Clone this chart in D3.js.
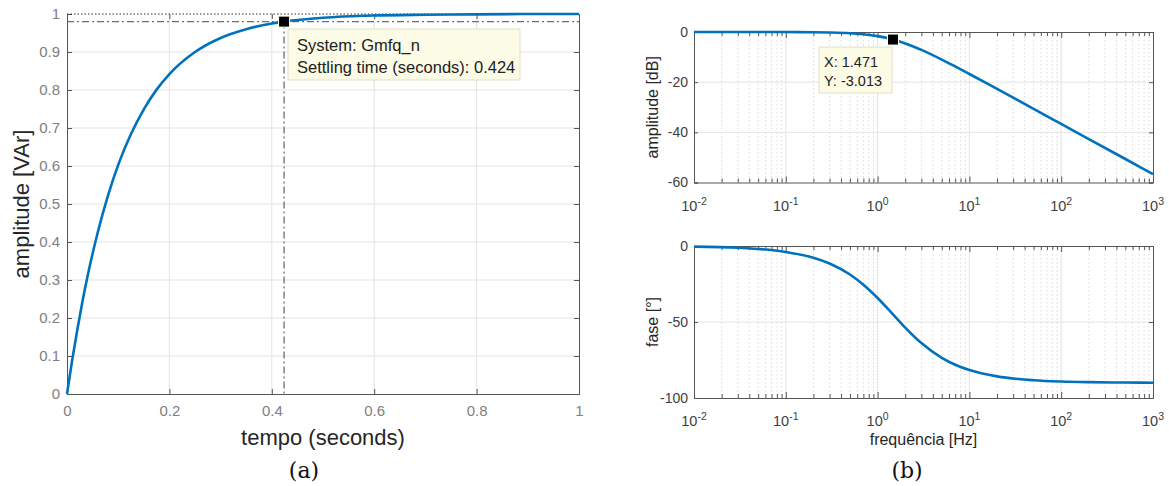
<!DOCTYPE html>
<html><head><meta charset="utf-8">
<script src="https://cdn.jsdelivr.net/npm/d3@7"></script>
<style>body{margin:0;background:#fff}svg{display:block}text{font-family:"Liberation Sans",Arial,sans-serif}</style>
</head><body>
<svg id="c" width="1169" height="486"></svg>
<script>
// ---- data ----
const stepT = [0,0.01,0.02,0.03,0.04,0.06,0.08,0.1,0.125,0.15,0.175,0.2,0.25,0.3,0.35,0.4,0.424,0.5,0.6,0.7,0.8,0.9,1.0];
const stepY = [0,0.088,0.168,0.242,0.309,0.425,0.522,0.603,0.684,0.749,0.801,0.842,0.900,0.937,0.960,0.975,0.980,0.990,0.996,0.998,0.999,1.0,1.0];
const stepXTicks = [0,0.2,0.4,0.6,0.8,1];
const stepYTicks = [0,0.1,0.2,0.3,0.4,0.5,0.6,0.7,0.8,0.9,1];
const settling = {t:0.424, y:0.98, system:"Gmfq_n"};

const freq  = [0.01,0.03,0.1,0.2,0.3,0.5,0.7,1,1.471,2,3,5,7,10,20,50,100,200,500,1000];
const magDb = [0,-0.004,-0.02,-0.08,-0.18,-0.47,-0.89,-1.65,-3.01,-4.55,-7.13,-10.99,-13.74,-16.74,-22.69,-30.63,-36.65,-42.67,-50.63,-56.65];
const phaseDeg = [-0.39,-1.17,-3.89,-7.74,-11.53,-18.77,-25.45,-34.2,-45,-53.66,-63.88,-73.6,-78.13,-81.63,-85.79,-88.31,-89.16,-89.58,-89.83,-89.92];
const decades = [-2,-1,0,1,2,3];
const magTicks = [0,-20,-40,-60];
const phaseTicks = [0,-50,-100];
const tip = {x:1.471, y:-3.013};

const blue = "#0072BD", frame = "#555", tickColL = "#808080", tickColR = "#404040", labCol = "#262626", gridCol = "#e3e3e3";
const svg = d3.select("#c");
const fmt = d => String(d);

// ===== Left: step response =====
const L = {x0:67, x1:579, y0:14, y1:394};
const xs = d3.scaleLinear().domain([0,1]).range([L.x0,L.x1]);
const ys = d3.scaleLinear().domain([0,1]).range([L.y1,L.y0]);
const gl = svg.append("g");
gl.selectAll(".gx").data(stepXTicks.slice(1,-1)).join("line")
  .attr("x1",d=>xs(d)).attr("x2",d=>xs(d)).attr("y1",L.y0).attr("y2",L.y1).attr("stroke",gridCol);
gl.selectAll(".gy").data(stepYTicks.slice(1,-1)).join("line")
  .attr("y1",d=>ys(d)).attr("y2",d=>ys(d)).attr("x1",L.x0).attr("x2",L.x1).attr("stroke",gridCol);
const axB = d3.axisBottom(xs).tickValues(stepXTicks).tickSize(-5).tickPadding(11).tickFormat(fmt);
const axL = d3.axisLeft(ys).tickValues(stepYTicks).tickSize(-5).tickPadding(7).tickFormat(fmt);
const gxa = gl.append("g").attr("transform",`translate(0,${L.y1})`).call(axB);
const gya = gl.append("g").attr("transform",`translate(${L.x0},0)`).call(axL);
const gxt = gl.append("g").attr("transform",`translate(0,${L.y0})`).call(d3.axisTop(xs).tickValues(stepXTicks).tickSize(-5).tickFormat(""));
const gyr = gl.append("g").attr("transform",`translate(${L.x1},0)`).call(d3.axisRight(ys).tickValues(stepYTicks).tickSize(-5).tickFormat(""));
[gxa,gya,gxt,gyr].forEach(g=>{g.select(".domain").attr("stroke",frame);g.selectAll(".tick line").attr("stroke",frame);
  g.selectAll("text").attr("fill",tickColL).style("font-size","15px").style("font-family","Liberation Sans, Arial, sans-serif");});
gxt.select(".domain").attr("stroke","none");
gl.append("line").attr("x1",L.x0).attr("x2",L.x1).attr("y1",ys(1)).attr("y2",ys(1)).attr("stroke","#333").attr("stroke-dasharray","1.5,2");
gl.append("line").attr("x1",L.x0).attr("x2",L.x1).attr("y1",ys(settling.y)).attr("y2",ys(settling.y))
  .attr("stroke","#6e6e6e").attr("stroke-width",1.3).attr("stroke-dasharray","7,3,2,3");
gl.append("line").attr("x1",xs(settling.t)).attr("x2",xs(settling.t)).attr("y1",ys(settling.y)).attr("y2",L.y1)
  .attr("stroke","#6e6e6e").attr("stroke-width",1.3).attr("stroke-dasharray","7,3,2,3");
const stepData = stepT.map((t,i)=>[t,stepY[i]]);
gl.append("path").datum(stepData).attr("fill","none").attr("stroke",blue).attr("stroke-width",2.6)
  .attr("d",d3.line().x(d=>xs(d[0])).y(d=>ys(d[1])).curve(d3.curveMonotoneX));
gl.append("rect").attr("x",xs(settling.t)-5.5).attr("y",ys(settling.y)-5.5).attr("width",11).attr("height",11)
  .attr("fill","#000").attr("stroke","#ffffe6").attr("stroke-width",1);
gl.append("rect").attr("x",288).attr("y",29).attr("width",232).attr("height",51).attr("fill","#fbfbe6").attr("stroke","#e0e0c8");
gl.append("text").attr("x",297).attr("y",51).attr("fill","#222").style("font-size","16.5px").text(`System: ${settling.system}`);
gl.append("text").attr("x",297).attr("y",73).attr("fill","#222").style("font-size","16.5px").text(`Settling time (seconds): ${settling.t}`);
gl.append("text").attr("transform",`translate(29,${(L.y0+L.y1)/2}) rotate(-90)`).attr("text-anchor","middle")
  .attr("fill",labCol).style("font-size","22px").text("amplitude [VAr]");
gl.append("text").attr("x",(L.x0+L.x1)/2).attr("y",445).attr("text-anchor","middle")
  .attr("fill",labCol).style("font-size","22px").text("tempo (seconds)");
svg.append("text").attr("x",304).attr("y",478).attr("text-anchor","middle").attr("fill","#111")
  .style("font-family","DejaVu Serif, Liberation Serif, serif").style("font-size","22px").text("(a)");

// ===== Right: Bode =====
const R = {x0:694, x1:1153};
const fx = d3.scaleLog().domain([1e-2,1e3]).range([R.x0,R.x1]);
const minors = [];
decades.slice(0,-1).forEach(e=>{for(let k=2;k<=9;k++) minors.push(k*Math.pow(10,e));});
const majors = decades.map(e=>Math.pow(10,e));

function bode(top,bottom,domain,ticks,yvals,ylabel){
  const y = d3.scaleLinear().domain(domain).range([bottom,top]);
  const g = svg.append("g");
  g.selectAll(".mn").data(minors).join("line").attr("x1",d=>fx(d)).attr("x2",d=>fx(d)).attr("y1",top).attr("y2",bottom)
    .attr("stroke","#dadada").attr("stroke-dasharray","1.5,2.5");
  g.selectAll(".mj").data(majors.slice(1,-1)).join("line").attr("x1",d=>fx(d)).attr("x2",d=>fx(d)).attr("y1",top).attr("y2",bottom).attr("stroke",gridCol);
  g.selectAll(".gy").data(ticks.slice(1,-1)).join("line").attr("x1",R.x0).attr("x2",R.x1).attr("y1",d=>y(d)).attr("y2",d=>y(d)).attr("stroke",gridCol);
  const ab = g.append("g").attr("transform",`translate(0,${bottom})`).call(d3.axisBottom(fx).tickValues(majors.concat(minors)).tickSize(-4).tickFormat(""));
  const at = g.append("g").attr("transform",`translate(0,${top})`).call(d3.axisTop(fx).tickValues(majors.concat(minors)).tickSize(-4).tickFormat(""));
  const al = g.append("g").attr("transform",`translate(${R.x0},0)`).call(d3.axisLeft(y).tickValues(ticks).tickSize(-4).tickPadding(6).tickFormat(fmt));
  const ar = g.append("g").attr("transform",`translate(${R.x1},0)`).call(d3.axisRight(y).tickValues(ticks).tickSize(-4).tickFormat(""));
  [ab,at,al,ar].forEach(a=>{a.select(".domain").attr("stroke",frame);a.selectAll(".tick line").attr("stroke",frame);
    a.selectAll("text").attr("fill",tickColR).style("font-size","14px").style("font-family","Liberation Sans, Arial, sans-serif");});
  [ab,at].forEach(a=>a.selectAll(".tick line").filter(d=>majors.includes(d)).attr("y2", a===ab?-6:6));
  const lab = g.selectAll(".dl").data(decades).join("text").attr("x",d=>fx(Math.pow(10,d))).attr("y",bottom+28)
    .attr("text-anchor","middle").attr("fill",tickColR).style("font-size","14.5px");
  lab.append("tspan").text("10");
  lab.append("tspan").attr("dy",-6).style("font-size","10.5px").text(d=>d);
  const data = freq.map((f,i)=>[f,yvals[i]]);
  g.append("path").datum(data).attr("fill","none").attr("stroke",blue).attr("stroke-width",2.6)
    .attr("d",d3.line().x(d=>fx(d[0])).y(d=>y(d[1])).curve(d3.curveMonotoneX));
  g.append("text").attr("transform",`translate(658,${(top+bottom)/2}) rotate(-90)`).attr("text-anchor","middle")
    .attr("fill",labCol).style("font-size","16px").text(ylabel);
  return {g,y};
}
const top1 = bode(32,182.5,[-60,0],magTicks,magDb,"amplitude [dB]");
const bot1 = bode(246,398,[-100,0],phaseTicks,phaseDeg,"fase [°]");
svg.append("text").attr("x",(R.x0+R.x1)/2).attr("y",445).attr("text-anchor","middle").attr("fill",labCol).style("font-size","16px").text("frequência [Hz]");
svg.append("text").attr("x",907).attr("y",478).attr("text-anchor","middle").attr("fill","#111")
  .style("font-family","DejaVu Serif, Liberation Serif, serif").style("font-size","22px").text("(b)");
const tg = top1.g;
tg.append("rect").attr("x",fx(tip.x)-5.5).attr("y",top1.y(tip.y)-5.5).attr("width",11).attr("height",11)
  .attr("fill","#000").attr("stroke","#ffffe6");
tg.append("rect").attr("x",819).attr("y",47).attr("width",73).attr("height",46).attr("fill","#fbfbe6").attr("stroke","#e0e0c8");
tg.append("text").attr("x",824).attr("y",67).attr("fill","#222").style("font-size","14.5px").text(`X: ${tip.x}`);
tg.append("text").attr("x",824).attr("y",86).attr("fill","#222").style("font-size","14.5px").text(`Y: ${tip.y}`);
</script>
</body></html>
